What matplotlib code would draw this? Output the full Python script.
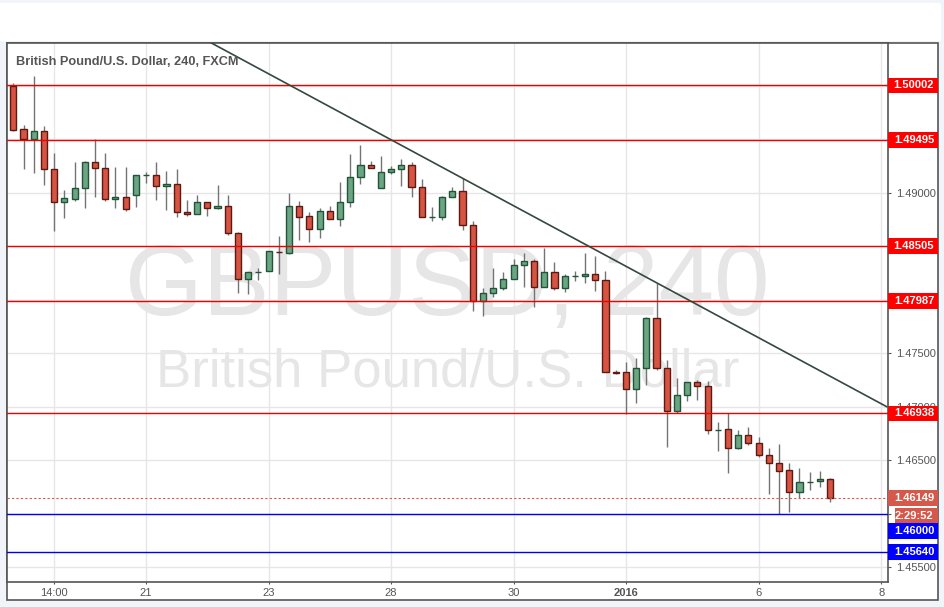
import numpy as np
import matplotlib
matplotlib.use("Agg")
import matplotlib.pyplot as plt
from matplotlib.patches import Rectangle
from matplotlib.transforms import blended_transform_factory

# 4h candles, GBP/USD
opens = [1.49997, 1.49592, 1.49505, 1.49576, 1.49219, 1.48916, 1.48944, 1.49041, 1.49284, 1.49228,
         1.48938, 1.48957, 1.48976, 1.49163, 1.49163, 1.49060, 1.49084, 1.48822, 1.48798, 1.48910,
         1.48854, 1.48873, 1.48621, 1.48191, 1.48259, 1.48266, 1.48446, 1.48439, 1.48876, 1.48782,
         1.48664, 1.48826, 1.48751, 1.48910, 1.49144, 1.49256, 1.49041, 1.49191, 1.49219, 1.49256,
         1.49050, 1.48770, 1.48770, 1.48957, 1.49013, 1.48695, 1.47988, 1.48060, 1.48107, 1.48191,
         1.48322, 1.48359, 1.48116, 1.48256, 1.48107, 1.48219, 1.48219, 1.48238, 1.48182, 1.47322,
         1.47322, 1.47169, 1.47359, 1.47826, 1.47359, 1.46963, 1.47107, 1.47228, 1.47191, 1.46783,
         1.46789, 1.46612, 1.46733, 1.46659, 1.46546, 1.46472, 1.46406, 1.46201, 1.46300, 1.46303,
         1.46322]
highs = [1.50028, 1.49633, 1.50090, 1.49623, 1.49368, 1.49022, 1.49287, 1.49296, 1.49499, 1.49368,
         1.49240, 1.49240, 1.49163, 1.49196, 1.49284, 1.49200, 1.49221, 1.48929, 1.48979, 1.48910,
         1.49069, 1.48979, 1.48636, 1.48256, 1.48296, 1.48453, 1.48595, 1.48997, 1.48922, 1.48822,
         1.48854, 1.48876, 1.49100, 1.49362, 1.49443, 1.49293, 1.49340, 1.49249, 1.49315, 1.49287,
         1.49125, 1.48863, 1.48970, 1.49053, 1.49134, 1.48736, 1.48107, 1.48296, 1.48259, 1.48381,
         1.48434, 1.48378, 1.48480, 1.48350, 1.48238, 1.48266, 1.48434, 1.48406, 1.48266, 1.47340,
         1.47416, 1.47453, 1.47836, 1.48153, 1.47437, 1.47272, 1.47228, 1.47250, 1.47240, 1.46858,
         1.46944, 1.46783, 1.46811, 1.46715, 1.46612, 1.46652, 1.46474, 1.46428, 1.46390, 1.46403,
         1.46332]
lows = [1.49579, 1.49224, 1.49187, 1.49072, 1.48645, 1.48761, 1.48925, 1.48860, 1.48963, 1.48920,
        1.48860, 1.48832, 1.48869, 1.49093, 1.48935, 1.48838, 1.48776, 1.48785, 1.48798, 1.48785,
        1.48848, 1.48602, 1.48066, 1.48056, 1.48184, 1.48266, 1.48238, 1.48432, 1.48558, 1.48542,
        1.48580, 1.48751, 1.48692, 1.48869, 1.49084, 1.49228, 1.49041, 1.49172, 1.49065, 1.48963,
        1.48770, 1.48738, 1.48745, 1.48957, 1.48651, 1.47895, 1.47851, 1.48028, 1.48091, 1.48191,
        1.48116, 1.47929, 1.48116, 1.48088, 1.48075, 1.48178, 1.48153, 1.48079, 1.47322, 1.47305,
        1.46932, 1.47038, 1.47206, 1.47341, 1.46627, 1.46944, 1.47057, 1.47066, 1.46748, 1.46590,
        1.46384, 1.46603, 1.46640, 1.46533, 1.46188, 1.46001, 1.46020, 1.46150, 1.46225, 1.46250,
        1.46107]
closes = [1.49589, 1.49505, 1.49576, 1.49219, 1.48916, 1.48948, 1.49041, 1.49284, 1.49228, 1.48938,
          1.48957, 1.48851, 1.49163, 1.49163, 1.49060, 1.49084, 1.48822, 1.48798, 1.48910, 1.48854,
          1.48873, 1.48621, 1.48191, 1.48256, 1.48259, 1.48453, 1.48444, 1.48876, 1.48776, 1.48664,
          1.48826, 1.48751, 1.48910, 1.49144, 1.49256, 1.49228, 1.49191, 1.49219, 1.49256, 1.49050,
          1.48770, 1.48770, 1.48957, 1.49013, 1.48695, 1.47988, 1.48060, 1.48107, 1.48191, 1.48322,
          1.48359, 1.48116, 1.48256, 1.48107, 1.48219, 1.48219, 1.48238, 1.48182, 1.47322, 1.47320,
          1.47169, 1.47359, 1.47826, 1.47359, 1.46963, 1.47107, 1.47228, 1.47191, 1.46780, 1.46783,
          1.46612, 1.46733, 1.46659, 1.46546, 1.46472, 1.46403, 1.46201, 1.46294, 1.46300, 1.46325,
          1.46149]

tick_pos = [4, 13, 25, 37, 49, 60, 73, 85]
tick_labels = ["14:00", "21", "23", "28", "30", "2016", "6", "8"]

price_ticks = [1.455, 1.460, 1.465, 1.470, 1.475, 1.480, 1.485, 1.490, 1.495, 1.500]
shown_ticks = [1.455, 1.465, 1.470, 1.475, 1.490]  # the rest sit under the coloured labels

red_levels = [1.50002, 1.49495, 1.48505, 1.47987, 1.46938]
blue_levels = [1.46000, 1.45640]
last_price = 1.46149
countdown = "2:29:52"

trend_x = [19.4, 85.54]
trend_y = [1.50399, 1.47001]

UP, UP_EDGE = "#6ba583", "#225437"
DOWN, DOWN_EDGE = "#d75442", "#5b1a13"
LAST = "#d6584a"

fig = plt.figure(figsize=(9.45, 6.07), dpi=100, facecolor="#f1f4f8")
# white strip on top (toolbar area) and the chart panel
fig.patches.append(Rectangle((0, 1 - 41 / 607), 941 / 945, 38 / 607,
                             transform=fig.transFigure, facecolor="white",
                             edgecolor="none", zorder=-5))
fig.patches.append(Rectangle((7 / 945, 1 - 600 / 607), 931 / 945, 557 / 607,
                             transform=fig.transFigure, facecolor="white",
                             edgecolor="#555555", lw=1.2, zorder=-5))
ax = fig.add_axes([7 / 945, 1 - 582 / 607, 881 / 945, 539 / 607])
ax.set_zorder(1)
ax.set_facecolor("white")

o = np.array(opens)
c = np.array(closes)
idx = np.arange(len(o))
up = c >= o

ax.vlines(idx, lows, highs, color="#747474", lw=1, zorder=2)
ax.bar(idx, np.abs(c - o), bottom=np.minimum(o, c), width=0.6,
       color=np.where(up, UP, DOWN), edgecolor=np.where(up, UP_EDGE, DOWN_EDGE),
       lw=1, zorder=3)

for lv in red_levels:
    ax.axhline(lv, color="#ee0000", lw=1, zorder=4)
for lv in blue_levels:
    ax.axhline(lv, color="#0000ee", lw=1, zorder=4)
ax.axhline(last_price, color=LAST, lw=0.8, ls=(0, (2, 2)), zorder=4)
ax.plot(trend_x, trend_y, color="#34493d", lw=1.2, zorder=4)

# watermark + title
ax.text(0.5, 0.4954, "GBPUSD, 240", transform=ax.transAxes, ha="center", va="baseline",
        fontsize=72, family="Liberation Sans", color="#e6e6e6", zorder=0.6)
ax.text(0.5, 0.3636, "British Pound/U.S. Dollar", transform=ax.transAxes, ha="center",
        va="baseline", fontsize=38, family="Liberation Sans", color="#e6e6e6", zorder=0.6)
ax.text(0.0099, 0.959, "British Pound/U.S. Dollar, 240, FXCM", transform=ax.transAxes,
        ha="left", va="baseline", fontsize=9.2, family="Liberation Sans", weight="bold",
        color="#555555", zorder=6)

ax.set_xlim(-0.62, 85.67)
ax.set_ylim(1.45363, 1.50399)

ax.yaxis.tick_right()
ax.set_yticks(price_ticks)
ax.set_yticklabels([f"{v:.5f}" if v in shown_ticks else "" for v in price_ticks])
ax.set_xticks(tick_pos)
ax.set_xticklabels(tick_labels)
for lab in ax.get_xticklabels():
    if lab.get_text() == "2016":
        lab.set_fontweight("bold")
ax.tick_params(axis="y", length=2.5, pad=3, colors="#555555", labelsize=8)
ax.tick_params(axis="x", length=1.5, pad=3, colors="#555555", labelsize=8)
for lab in ax.get_xticklabels() + ax.get_yticklabels():
    lab.set_family("Liberation Sans")
ax.grid(True, color="#e6e6e6", lw=1)
ax.set_axisbelow(True)
for s in ax.spines.values():
    s.set_color("#555555")
    s.set_linewidth(1.2)

# price labels on the right scale
tr = blended_transform_factory(ax.transAxes, ax.transData)
h = 0.00148
x0, x1 = 1.0, 1.0568


def price_box(yc, text, color, left=x0):
    ax.add_patch(Rectangle((left, yc - h / 2), x1 - left, h, transform=tr,
                           facecolor=color, edgecolor="none", clip_on=False, zorder=8))
    ax.text(1.0295, yc, text, transform=tr, ha="center", va="center", color="white",
            fontsize=8, weight="bold", family="Liberation Sans", clip_on=False, zorder=9)


for lv in red_levels:
    price_box(lv, f"{lv:.5f}", "#ff0000")
price_box(last_price, f"{last_price:.5f}", LAST)
price_box(last_price - 0.00165, countdown, LAST, left=1.008)
price_box(last_price - 0.00165 - 0.00143, f"{blue_levels[0]:.5f}", "#0000ff")
price_box(blue_levels[1], f"{blue_levels[1]:.5f}", "#0000ff")

fig.savefig("out.png", dpi=100, facecolor=fig.get_facecolor())
